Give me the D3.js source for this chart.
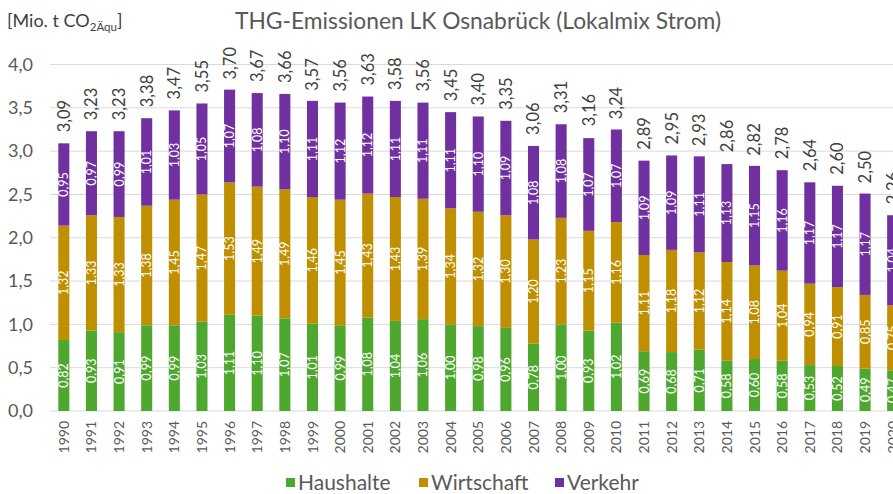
<!DOCTYPE html>
<html>
<head>
<meta charset="utf-8">
<script src="https://cdn.jsdelivr.net/npm/d3@7"></script>
<style>
  html, body { margin: 0; padding: 0; background: #fff; overflow: hidden; }
  svg { display: block; font-family: Lato, "Open Sans", sans-serif; }
</style>
</head>
<body>
<svg id="chart" width="893" height="494"></svg>
<script>
const years = ["1990","1991","1992","1993","1994","1995","1996","1997","1998","1999",
  "2000","2001","2002","2003","2004","2005","2006","2007","2008","2009",
  "2010","2011","2012","2013","2014","2015","2016","2017","2018","2019","2020"];
const haushalte = [0.82,0.93,0.91,0.99,0.99,1.03,1.11,1.10,1.07,1.01,
  0.99,1.08,1.04,1.06,1.00,0.98,0.96,0.78,1.00,0.93,
  1.02,0.69,0.68,0.71,0.58,0.60,0.58,0.53,0.52,0.49,0.47];
const wirtschaft = [1.32,1.33,1.33,1.38,1.45,1.47,1.53,1.49,1.49,1.46,
  1.45,1.43,1.43,1.39,1.34,1.32,1.30,1.20,1.23,1.15,
  1.16,1.11,1.18,1.12,1.14,1.08,1.04,0.94,0.91,0.85,0.75];
const verkehr = [0.95,0.97,0.99,1.01,1.03,1.05,1.07,1.08,1.10,1.11,
  1.12,1.12,1.11,1.11,1.11,1.10,1.09,1.08,1.08,1.07,
  1.07,1.09,1.09,1.11,1.13,1.15,1.16,1.17,1.17,1.17,1.04];
const totals = [3.09,3.23,3.23,3.38,3.47,3.55,3.70,3.67,3.66,3.57,
  3.56,3.63,3.58,3.56,3.45,3.40,3.35,3.06,3.31,3.16,
  3.24,2.89,2.95,2.93,2.86,2.82,2.78,2.64,2.60,2.50,2.26];
const seriesNames = ["Haushalte","Wirtschaft","Verkehr"];
const seriesColors = ["#4ea72e","#bf8f00","#7030a0"];
const yTicks = [0,0.5,1,1.5,2,2.5,3,3.5,4];
const titleText = "THG-Emissionen LK Osnabrück (Lokalmix Strom)";

const fmt = v => v.toFixed(2).replace(".", ",");
const fmt1 = v => v.toFixed(1).replace(".", ",");

const svg = d3.select("#chart");
const rows = years.map((y, i) => ({year: y, Haushalte: haushalte[i], Wirtschaft: wirtschaft[i], Verkehr: verkehr[i], total: totals[i]}));

const x = d3.scaleBand().domain(years).range([50, 906.5]).paddingInner(0.6).paddingOuter(0.3);
const y = d3.scaleLinear().domain([0, 4]).range([411, 64.5]);

// gridlines
svg.append("g").selectAll("line").data(yTicks).join("line")
  .attr("x1", 50).attr("x2", 893)
  .attr("y1", d => y(d)).attr("y2", d => y(d))
  .attr("stroke", "#d9d9d9").attr("stroke-width", 1);

// y tick labels
svg.append("g").selectAll("text").data(yTicks).join("text")
  .attr("x", 33).attr("y", d => y(d))
  .attr("dy", "0.35em")
  .attr("text-anchor", "end")
  .attr("font-size", 18).attr("fill", "#595959")
  .text(fmt1);

// stacked bars
const stack = d3.stack().keys(seriesNames)(rows);
const layers = svg.append("g").selectAll("g").data(stack).join("g")
  .attr("fill", (d, i) => seriesColors[i]);
layers.selectAll("rect").data(d => d).join("rect")
  .attr("x", d => x(d.data.year))
  .attr("width", x.bandwidth())
  .attr("y", d => y(d[1]))
  .attr("height", d => y(d[0]) - y(d[1]));

// inside labels
const lab = svg.append("g");
stack.forEach(layer => {
  layer.forEach(d => {
    const cx = x(d.data.year) + x.bandwidth() / 2;
    const cy = (y(d[0]) + y(d[1])) / 2;
    lab.append("text")
      .attr("transform", `translate(${cx},${cy}) rotate(-90)`)
      .attr("text-anchor", "middle")
      .attr("dy", "0.36em")
      .attr("font-size", 12.5)
      .attr("fill", "#ffffff")
      .text(fmt(d.data[layer.key]));
  });
});

// total labels
svg.append("g").selectAll("text").data(rows).join("text")
  .attr("transform", d => `translate(${x(d.year) + x.bandwidth() / 2},${y(d.total) - 11}) rotate(-90)`)
  .attr("text-anchor", "start")
  .attr("dy", "0.36em")
  .attr("font-size", 16.5).attr("fill", "#404040")
  .text(d => fmt(d.total));

// x axis labels
svg.append("g").selectAll("text").data(years).join("text")
  .attr("transform", d => `translate(${x(d) + x.bandwidth() / 2},421) rotate(-90)`)
  .attr("text-anchor", "end")
  .attr("dy", "0.36em")
  .attr("font-size", 14).attr("fill", "#595959")
  .text(d => d);

// title
svg.append("text")
  .attr("x", 478).attr("y", 29)
  .attr("text-anchor", "middle")
  .attr("font-size", 22.8).attr("fill", "#595959")
  .text(titleText);

// unit label
const unit = svg.append("text").attr("x", 7).attr("y", 27).attr("font-size", 18).attr("fill", "#404040");
unit.append("tspan").text("[Mio. t CO");
unit.append("tspan").attr("font-size", 11.5).attr("dy", 4).text("2Äqu");
unit.append("tspan").attr("dy", -4).text("]");

// legend
const legX = [286, 419, 555];
const leg = svg.append("g");
seriesNames.forEach((n, i) => {
  leg.append("rect").attr("x", legX[i]).attr("y", 478).attr("width", 9).attr("height", 9).attr("fill", seriesColors[i]);
  leg.append("text").attr("x", legX[i] + 12).attr("y", 490).attr("font-size", 21).attr("fill", "#595959").text(n);
});
</script>
</body>
</html>
